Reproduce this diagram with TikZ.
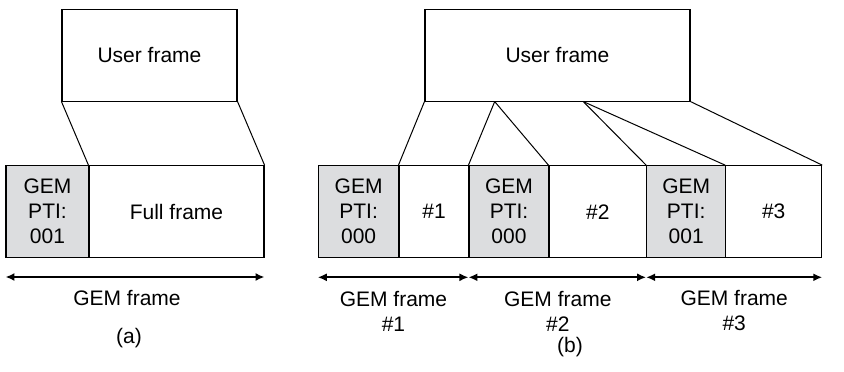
\documentclass[tikz,border=0pt]{standalone}
\usepackage{fontspec}
\setmainfont{Liberation Sans}
\usetikzlibrary{arrows.meta,calc}
\definecolor{hdrgray}{RGB}{220,221,223}
\tikzset{
  x=1pt, y=-1pt,
  every node/.style={font=\fontsize{21}{25}\selectfont},
  cell/.style={draw=black, line width=1.1pt, inner sep=0pt, align=center, minimum height=92pt},
  hdr/.style={cell, fill=hdrgray},
  userbox/.style={draw=black, line width=1.1pt, inner sep=0pt, minimum height=91.7pt},
  link/.style={draw=black, line width=1pt},
  span/.style={line width=1.8pt, {Latex[length=9pt,width=8pt]}-{Latex[length=9pt,width=8pt]}},
  lbl/.style={align=center, inner sep=0pt}
}
\begin{document}
\begin{tikzpicture}
\useasboundingbox (0,0) rectangle (844,372);

% ---------- (a) single GEM frame ----------
\node[userbox, minimum width=175pt] (ua) at (149.5,55.2) {User frame};
\node[hdr, minimum width=83pt] (ga) at (47.5,211.7) {GEM\\PTI:\\001};
\node[cell, minimum width=175pt] (fa) at (176.5,211.7) {Full frame};
\draw[link] (ua.south west) -- (fa.north west);
\draw[link] (ua.south east) -- (fa.north east);
\draw[span] (ga.south west |- 0,277) -- (fa.south east |- 0,277);
\node[lbl] (la) at (127,298) {GEM frame};
\node[lbl] (capa) at (129,338) {(a)};

% ---------- (b) fragmented into three GEM frames ----------
\node[userbox, minimum width=265pt] (ub) at (557.5,55.2) {User frame};
\node[hdr, minimum width=80.7pt] (g1) at (358.65,211.7) {GEM\\PTI:\\000};
\node[cell, minimum width=70pt] (p1) at (434,211.7) {\#1};
\node[hdr, minimum width=80pt] (g2) at (509,211.7) {GEM\\PTI:\\000};
\node[cell, minimum width=97.7pt] (p2) at (597.85,211.7) {\#2};
\node[hdr, minimum width=79pt] (g3) at (686.2,211.7) {GEM\\PTI:\\001};
\node[cell, minimum width=96pt] (p3) at (773.7,211.7) {\#3};

\coordinate (cut1) at ($(ub.south west)!0.264!(ub.south east)$);
\coordinate (cut2) at ($(ub.south west)!0.597!(ub.south east)$);
\draw[link] (ub.south west) -- (p1.north west);
\draw[link] (cut1) -- (g2.north west);
\draw[link] (cut1) -- (p2.north west);
\draw[link] (cut2) -- (g3.north west);
\draw[link] (cut2) -- (p3.north west);
\draw[link] (ub.south east) -- (p3.north east);

\draw[span] (g1.south west |- 0,277.3) -- (g2.south west |- 0,277.3);
\draw[span] (g2.south west |- 0,277.3) -- (g3.south west |- 0,277.3);
\draw[span] (g3.south west |- 0,277.3) -- (p3.south east |- 0,277.3);
\node[lbl] (l1) at (393.5,311) {GEM frame\\\#1};
\node[lbl] (l2) at (557.8,311) {GEM frame\\\#2};
\node[lbl] (l3) at (734.2,311) {GEM frame\\\#3};
\node[lbl] (capb) at (570,347) {(b)};
\end{tikzpicture}
\end{document}
